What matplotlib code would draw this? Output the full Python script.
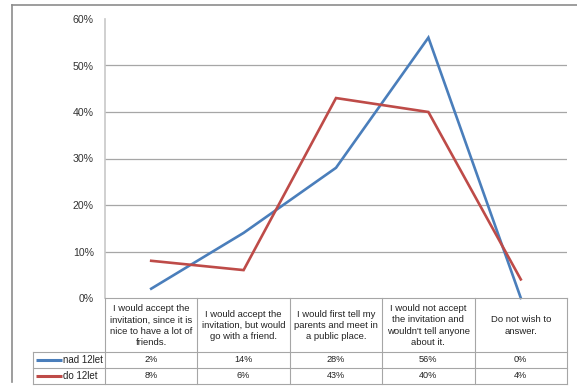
import matplotlib.pyplot as plt
from matplotlib.lines import Line2D
from matplotlib.ticker import PercentFormatter

categories = [
    "I would accept the\ninvitation, since it is\nnice to have a lot of\nfriends.",
    "I would accept the\ninvitation, but would\ngo with a friend.",
    "I would first tell my\nparents and meet in\na public place.",
    "I would not accept\nthe invitation and\nwouldn't tell anyone\nabout it.",
    "Do not wish to\nanswer.",
]
series_names = ["nad 12let", "do 12let"]
nad_12let = [2, 14, 28, 56, 0]
do_12let = [8, 6, 43, 40, 4]
series_colors = ["#4A7EBB", "#BE4B48"]

W, H = 577, 387
GRID = "#A6A6A6"
FONT = "Liberation Sans"

plt.rcParams["font.family"] = [FONT, "DejaVu Sans"]

fig = plt.figure(figsize=(W / 100, H / 100), dpi=100)


def fx(px):
    return px / W


def fy(py):
    return 1 - py / H


# outer chart frame
fig.add_artist(Line2D([fx(12), fx(12)], [fy(5), fy(382)], color="#8C8C8C", lw=1.2))
fig.add_artist(Line2D([fx(12), 1], [fy(5), fy(5)], color="#8C8C8C", lw=1.2))

left, right, top, base, tbot = 105, 567, 19, 298, 384
ax = fig.add_axes([fx(left), fy(base), fx(right - left), (base - top) / H])

x = list(range(len(categories)))
for vals, col in zip([nad_12let, do_12let], series_colors):
    ax.plot(x, vals, color=col, lw=1.9, solid_joinstyle="miter", clip_on=False, zorder=3)

ax.set_xlim(-0.5, len(categories) - 0.5)
ax.set_ylim(0, 60)
ax.set_yticks(range(0, 61, 10))
ax.yaxis.set_major_formatter(PercentFormatter(decimals=0))
ax.set_xticks([])
for v in range(10, 60, 10):
    ax.axhline(v, color=GRID, lw=0.9, zorder=1)
for s in ["top", "right", "bottom"]:
    ax.spines[s].set_visible(False)
ax.spines["left"].set_color("#C8C8C8")
ax.spines["left"].set_linewidth(1.2)
ax.tick_params(axis="y", length=0, pad=8, labelsize=7.6, labelcolor="#333333")

# data table under the plot
tax = fig.add_axes([fx(left), fy(tbot), fx(right - left), (tbot - base) / H])
tax.set_xlim(-0.5, len(categories) - 0.5)
tax.set_ylim(tbot - base, 0)
tax.axis("off")

unit = (right - left) / len(categories)
x_lab = -0.5 - (left - 33) / unit
row1, row2 = 352 - base, 368 - base
rowend = tbot - base
lkw = dict(color=GRID, lw=0.8, clip_on=False)

for b in [i - 0.5 for i in range(len(categories) + 1)]:
    tax.plot([b, b], [0, rowend], **lkw)
tax.plot([-0.5, len(categories) - 0.5], [0, 0], **lkw)
for yy in [row1, row2, rowend]:
    tax.plot([x_lab, len(categories) - 0.5], [yy, yy], **lkw)
tax.plot([x_lab, x_lab], [row1, rowend], **lkw)

for i, cat in enumerate(categories):
    tax.text(i, row1 / 2 + 0.5, cat, ha="center", va="center", fontsize=6.8,
             color="#222222", linespacing=1.32)

for r, (name, vals, col) in enumerate(zip(series_names, [nad_12let, do_12let], series_colors)):
    yc = (row1 + row2) / 2 if r == 0 else (row2 + rowend) / 2
    key0 = x_lab + 3 / unit
    key1 = x_lab + 29 / unit
    tax.plot([key0, key1], [yc, yc], color=col, lw=2.2, clip_on=False,
             solid_capstyle="butt")
    tax.text(x_lab + 30 / unit, yc, name, ha="left", va="center", fontsize=7,
             color="#222222")
    for i, v in enumerate(vals):
        tax.text(i, yc, f"{v}%", ha="center", va="center", fontsize=6.6, color="#222222")

fig.savefig("out.png", dpi=100)
